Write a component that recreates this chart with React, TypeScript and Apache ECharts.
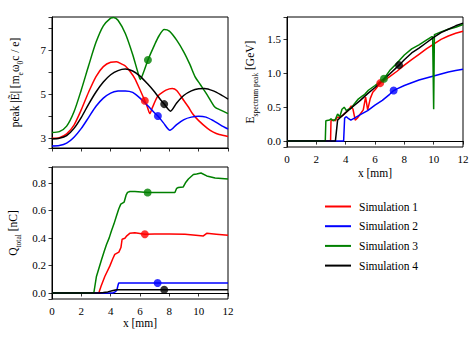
import React, { useEffect, useRef } from 'react';
import * as echarts from 'echarts';

type Pt = [number, number];

const simNames = ['Simulation 1', 'Simulation 2', 'Simulation 3', 'Simulation 4'];
const simColors = ['#ff0000', '#0000ff', '#008000', '#000000'];

// Panel 1: peak |E~| [m_e w_0 c / e]
const peakE1: Pt[] = [[0,3.0],[0.5,3.03],[1,3.2],[1.5,3.6],[2,4.3],[2.5,5.1],[3,5.8],[3.5,6.25],[4,6.45],[4.4,6.47],[4.8,6.35],[5.0,6.28],[5.3,6.05],[5.65,5.71],[6.0,5.2],[6.33,4.7],[6.5,4.42],[6.67,4.12],[6.85,4.4],[7.2,4.9],[7.6,5.12],[8.0,5.24],[8.2,5.26],[8.5,5.17],[9.0,4.7],[9.3,4.42],[9.6,4.1],[10.0,3.8],[10.6,3.45],[11.0,3.28],[11.4,3.17],[12,3.08]];
const peakE2: Pt[] = [[0,2.65],[0.5,2.67],[1,2.78],[1.5,3.05],[2,3.45],[2.5,3.95],[3,4.45],[3.5,4.82],[4,5.05],[4.5,5.14],[5,5.15],[5.5,5.08],[6,4.82],[6.5,4.5],[7,4.15],[7.22,4.01],[7.6,3.7],[8.04,3.36],[8.5,3.62],[9.0,3.85],[9.5,3.96],[10.0,4.0],[10.5,3.96],[11.0,3.8],[11.5,3.6],[12,3.42]];
const peakE3: Pt[] = [[0,3.26],[0.5,3.3],[1,3.55],[1.5,4.2],[2,5.2],[2.5,6.3],[3,7.35],[3.5,8.1],[4,8.45],[4.2,8.48],[4.5,8.35],[5,7.75],[5.5,6.8],[5.85,6.0],[6.02,5.67],[6.3,6.1],[6.54,6.55],[7,7.25],[7.3,7.65],[7.65,7.93],[8.0,7.86],[8.5,7.45],[9.0,6.9],[9.4,6.35],[9.75,5.8],[10.1,5.45],[10.6,4.95],[11.1,4.42],[11.5,4.28],[12,4.12]];
const peakE4: Pt[] = [[0,2.97],[0.5,3.0],[1,3.12],[1.5,3.45],[2,3.95],[2.5,4.55],[3,5.1],[3.5,5.55],[4,5.88],[4.5,6.07],[5,6.14],[5.5,6.05],[6,5.82],[6.5,5.48],[7,5.1],[7.4,4.75],[7.65,4.55],[8.08,4.23],[8.5,4.6],[9,4.95],[9.5,5.15],[10,5.25],[10.4,5.26],[11,5.15],[11.5,4.98],[12,4.78]];
const peakEMarkers: Pt[] = [[6.33,4.7],[7.22,4.01],[6.54,6.55],[7.65,4.55]];
const peakELabels = [3, 5, 7];

// Panel 2: E spectrum peak [GeV]
const energy1: Pt[] = [[0,0],[2.97,0],[3.0,0.3],[3.15,0.31],[3.3,0.3],[3.42,0.35],[3.6,0.35],[3.8,0.38],[4.0,0.42],[4.2,0.46],[4.38,0.52],[4.5,0.47],[4.65,0.31],[4.8,0.34],[5.0,0.4],[5.2,0.46],[5.36,0.65],[5.5,0.46],[5.68,0.63],[5.85,0.72],[6.02,0.76],[6.36,0.855],[7,0.95],[7.5,1.03],[8,1.12],[8.5,1.2],[9,1.28],[9.5,1.36],[10,1.43],[10.5,1.5],[11,1.55],[11.5,1.59],[12,1.62]];
const energy2: Pt[] = [[0,0],[3.86,0],[3.93,0.34],[4.05,0.36],[4.2,0.33],[4.35,0.31],[4.6,0.34],[5,0.39],[5.5,0.45],[6,0.53],[6.5,0.6],[7,0.69],[7.27,0.745],[7.5,0.77],[8,0.82],[8.5,0.86],[9,0.9],[9.5,0.93],[10,0.96],[10.5,0.99],[11,1.02],[11.5,1.04],[12,1.06]];
const energy3: Pt[] = [[0,0],[2.61,0],[2.65,0.3],[2.9,0.31],[3.0,0.33],[3.15,0.3],[3.3,0.32],[3.45,0.4],[3.6,0.36],[3.75,0.47],[3.9,0.5],[4.05,0.45],[4.2,0.47],[4.35,0.48],[4.6,0.55],[4.86,0.62],[5.1,0.66],[5.3,0.69],[5.55,0.75],[6.0,0.82],[6.3,0.87],[6.61,0.92],[7.0,1.04],[7.5,1.15],[8.0,1.27],[8.5,1.36],[9.0,1.42],[9.5,1.49],[9.88,1.54],[9.93,1.54],[10.0,0.47],[10.05,1.57],[10.5,1.61],[11.0,1.65],[11.5,1.68],[12,1.72]];
const energy4: Pt[] = [[0,0],[3.3,0],[3.45,0.31],[3.6,0.34],[4,0.42],[4.5,0.51],[5,0.6],[5.5,0.7],[6,0.79],[6.5,0.89],[7,0.99],[7.64,1.12],[8,1.2],[8.5,1.3],[9,1.37],[9.5,1.45],[10,1.53],[10.5,1.6],[11,1.65],[11.5,1.7],[12,1.74]];
const energyMarkers: Pt[] = [[6.36,0.855],[7.27,0.745],[6.61,0.92],[7.64,1.12]];
const energyLabels = [0, 0.5, 1, 1.5];

// Panel 3: Q total [nC]
const charge1: Pt[] = [[0,0],[3.19,0],[3.35,0.05],[3.6,0.12],[3.94,0.195],[4.15,0.25],[4.28,0.28],[4.56,0.297],[4.7,0.33],[4.78,0.39],[4.97,0.397],[5.1,0.415],[5.3,0.433],[5.65,0.438],[6.33,0.426],[7,0.428],[8,0.428],[9.07,0.426],[9.8,0.42],[10.32,0.414],[10.55,0.433],[11.2,0.427],[12,0.42]];
const charge2: Pt[] = [[0,0],[4.15,0],[4.3,0.008],[4.42,0.02],[4.51,0.06],[4.55,0.073],[7.2,0.073],[12,0.073]];
const charge3: Pt[] = [[0,0],[2.85,0],[3.03,0.12],[3.2,0.18],[3.37,0.24],[3.55,0.3],[3.71,0.35],[3.9,0.4],[4.05,0.45],[4.22,0.5],[4.4,0.56],[4.55,0.61],[4.69,0.645],[4.92,0.66],[5.05,0.71],[5.15,0.73],[5.31,0.737],[5.65,0.737],[6.52,0.73],[7.5,0.73],[8.38,0.73],[8.5,0.76],[8.61,0.766],[8.95,0.77],[9.1,0.8],[9.3,0.827],[9.64,0.86],[9.86,0.864],[10.16,0.871],[10.55,0.85],[11.12,0.835],[12,0.827]];
const charge4: Pt[] = [[0,0],[3.2,0],[3.5,0.003],[3.8,0.008],[4.1,0.016],[4.4,0.024],[7.65,0.024],[12,0.024]];
const chargeMarkers: Pt[] = [[6.33,0.426],[7.2,0.073],[6.52,0.73],[7.65,0.024]];
const chargeLabels = [0, 0.2, 0.4, 0.6, 0.8];

const xLabels = [0, 2, 4, 6, 8, 10, 12];

const FONT = 'Liberation Serif';

const fmtFrom = (labels: number[], digits: number) => (v: number) =>
  labels.some((l) => Math.abs(l - v) < 1e-6) ? v.toFixed(digits) : '';

const subRich = {
  s: { fontSize: 7.5, fontFamily: FONT, color: '#000', verticalAlign: 'bottom', lineHeight: 8 },
};

function makeX(gridIndex: number, showLabels: boolean, gap: number) {
  return {
    type: 'value', gridIndex, min: 0, max: 12, interval: 2,
    axisLine: { show: true, lineStyle: { color: '#000', width: 1 } },
    axisTick: { show: true, length: 3.5, lineStyle: { color: '#000', width: 0.8 } },
    axisLabel: { show: showLabels, margin: 6, color: '#000', fontFamily: FONT, fontSize: 11, formatter: fmtFrom(xLabels, 0) },
    splitLine: { show: false },
    name: showLabels ? 'x [mm]' : '', nameLocation: 'middle', nameGap: gap,
    nameTextStyle: { color: '#000', fontFamily: FONT, fontSize: 11.5, fontWeight: 'normal' },
  };
}

function makeY(gridIndex: number, min: number, max: number, splitNumber: number, labels: number[], digits: number, name: string, gap: number) {
  return {
    type: 'value', gridIndex, min, max, splitNumber,
    axisLine: { show: true, lineStyle: { color: '#000', width: 1 } },
    axisTick: { show: true, length: 3.5, lineStyle: { color: '#000', width: 0.8 } },
    axisLabel: { margin: 6, color: '#000', fontFamily: FONT, fontSize: 11, formatter: fmtFrom(labels, digits), showMinLabel: true, showMaxLabel: true },
    splitLine: { show: false },
    name, nameLocation: 'middle', nameGap: gap, nameRotate: 90,
    nameTextStyle: { color: '#000', fontFamily: FONT, fontSize: 11.5, lineHeight: 18, rich: subRich },
  };
}

const panels: Pt[][][] = [
  [peakE1, peakE2, peakE3, peakE4],
  [energy1, energy2, energy3, energy4],
  [charge1, charge2, charge3, charge4],
];
const panelMarkers: Pt[][] = [peakEMarkers, energyMarkers, chargeMarkers];
const panelSmooth = [0.25, false, false];

function buildOption() {
  const series: any[] = [];
  panels.forEach((sims, p) => {
    sims.forEach((data, i) => {
      series.push({
        type: 'line', name: simNames[i], xAxisIndex: p, yAxisIndex: p, data,
        showSymbol: false, smooth: panelSmooth[p], color: simColors[i],
        lineStyle: { color: simColors[i], width: 1.5 }, z: 2,
      });
    });
  });
  panelMarkers.forEach((marks, p) => {
    marks.forEach((pt, i) => {
      series.push({
        type: 'scatter', name: simNames[i], xAxisIndex: p, yAxisIndex: p, data: [pt],
        symbol: 'circle', symbolSize: 8, color: simColors[i], itemStyle: { color: simColors[i] }, z: 3,
      });
    });
  });
  const gridBase = { show: true, borderColor: '#000', borderWidth: 1, backgroundColor: 'transparent' };
  return {
    animation: false,
    backgroundColor: '#ffffff',
    textStyle: { fontFamily: FONT, color: '#000' },
    grid: [
      { ...gridBase, left: 52, top: 17, width: 176, height: 131 },
      { ...gridBase, left: 287, top: 17, width: 176, height: 130 },
      { ...gridBase, left: 52, top: 167, width: 176, height: 132 },
    ],
    xAxis: [makeX(0, false, 20), makeX(1, true, 20), makeX(2, true, 18)],
    yAxis: [
      makeY(0, 2.56, 8.5, 6, peakELabels, 0, 'peak |Ẽ| [m{s|e}ω{s|0}c / e]', 28),
      makeY(1, -0.087, 1.83, 4, energyLabels, 1, 'E{s|spectrum peak} [GeV]', 28),
      makeY(2, -0.0436, 0.9146, 5, chargeLabels, 1, 'Q{s|total} [nC]', 30),
    ],
    legend: {
      data: simNames, orient: 'vertical', left: 320, top: 194.5,
      icon: 'rect', itemWidth: 26, itemHeight: 2, itemGap: 5.7,
      textStyle: {
        color: '#000', fontFamily: FONT, fontSize: 11.5, lineHeight: 14,
        rich: { a: { fontFamily: FONT, fontSize: 11.5, color: '#000', lineHeight: 14, padding: [0, 0, 0, 3] } },
      },
      formatter: (n: string) => `{a|${n}}`,
      selectedMode: false,
    },
    series,
  };
}

export default function App() {
  const ref = useRef<HTMLDivElement>(null);
  useEffect(() => {
    const chart = echarts.init(ref.current!, null, { renderer: 'svg' });
    chart.setOption(buildOption() as any);
    return () => chart.dispose();
  }, []);
  return <div ref={ref} style={{ position: 'absolute', left: 0, top: 0, width: 472, height: 347 }} />;
}
